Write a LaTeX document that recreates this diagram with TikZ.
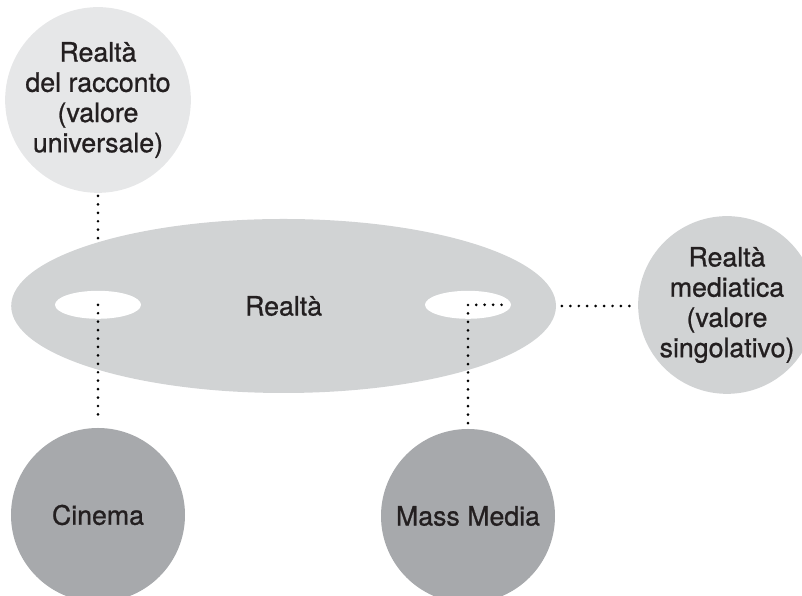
\documentclass[tikz,border=0pt]{standalone}
\usepackage{fontspec}
\setmainfont{TeX Gyre Heros}[FakeBold=0.9]
\usetikzlibrary{shapes.geometric, positioning, backgrounds}

\definecolor{lightgrey}{HTML}{E6E7E8}
\definecolor{midgrey}{HTML}{D1D3D4}
\definecolor{darkgrey}{HTML}{A7A9AC}
\definecolor{inkblack}{HTML}{231F20}

\begin{document}
\begin{tikzpicture}[
    every node/.style={text=inkblack},
    reality/.style={ellipse, fill=midgrey, minimum width=13.62cm, minimum height=4.35cm, inner sep=0pt, font=\fontsize{19}{21}\selectfont},
    hole/.style={ellipse, fill=white, minimum width=2.15cm, minimum height=0.7cm, inner sep=0pt},
    level/.style={circle, minimum size=4.35cm, inner sep=0pt, align=center, font=\fontsize{19}{21.5}\selectfont},
    medium/.style={circle, fill=darkgrey, minimum size=4.35cm, inner sep=0pt, font=\fontsize{19}{21}\selectfont},
    link/.style={line width=2.1pt, line cap=round, dash pattern=on 0pt off 6pt}
]
\useasboundingbox (0,0) rectangle (20.05,14.9);

% Reality with its two windows
\node[reality] (realta) at (7.09,7.25) {Realtà};
\node[hole] (holeCinema) at (2.45,7.28) {};
\node[hole] (holeMedia) at (11.7,7.28) {};

% The two kinds of reality
\node[level, fill=lightgrey] (racconto) at (2.45,12.4) {Realtà\\del racconto\\(valore\\universale)};
\node[level, fill=midgrey] (mediatica) at (18.175,7.275) {Realtà\\mediatica\\(valore\\singolativo)};

% Media
\node[medium] (cinema) at (2.45,2.025) {Cinema};
\node[medium] (massmedia) at (11.7,2.0) {Mass Media};

% Dotted links
\begin{scope}[on background layer]
\draw[link, shorten <=2pt] (racconto.south) -- (holeCinema.center);
\end{scope}
\draw[link, shorten >=5pt] (holeCinema.center) -- (cinema.north);
\draw[link, shorten <=4pt, shorten >=4pt] (massmedia.north) |- (holeMedia.east);
\draw[link, shorten <=4pt, shorten >=4pt] (realta.east) -- (realta.east -| mediatica.west);

\end{tikzpicture}
\end{document}
